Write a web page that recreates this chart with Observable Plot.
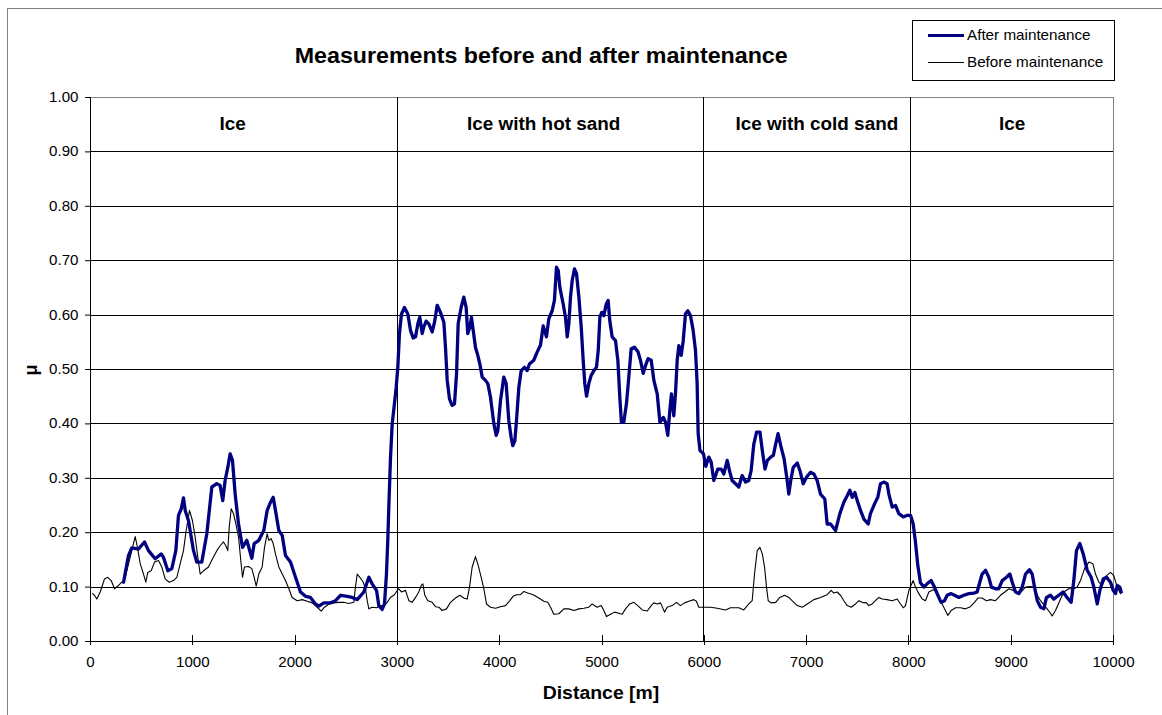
<!DOCTYPE html>
<html>
<head>
<meta charset="utf-8">
<script src="https://cdn.jsdelivr.net/npm/d3@7"></script>
<script src="https://cdn.jsdelivr.net/npm/@observablehq/plot@0.6"></script>
<style>
  html, body { margin: 0; padding: 0; background: #fff; }
  body { font-family: "Liberation Sans", Arial, sans-serif; }
  #wrap { position: relative; width: 1162px; height: 715px; overflow: hidden; }
  #border { position: absolute; left: 7px; top: 8px; width: 1160px; height: 720px; border: 1px solid #808080; box-sizing: border-box; }
  #chart { position: absolute; left: 0; top: 0; }
  .st { display: inline-block; transform: scaleX(1.08); transform-origin: 50% 50%; white-space: nowrap; }
  .stl { display: inline-block; transform: scaleX(1.05); transform-origin: 0 50%; white-space: nowrap; }
  #title { position: absolute; left: 90px; width: 903px; top: 43px; text-align: center; font-weight: bold; font-size: 21.5px; line-height: 26px; color: #000; }
  #xlabel { position: absolute; left: 90px; width: 1023px; top: 682px; text-align: center; font-weight: bold; font-size: 18px; line-height: 22px; }
  #ylabel { position: absolute; left: 31px; top: 370px; font-weight: bold; font-size: 18px; transform: translate(-50%, -50%) rotate(-90deg); }
  #legend { position: absolute; left: 912px; top: 20px; width: 203px; height: 61px; border: 1px solid #000; box-sizing: border-box; background: #fff; font-size: 14.5px; }
  .lg { position: absolute; left: 0; height: 18px; display: flex; align-items: center; }
  .sw { display: inline-block; width: 36px; margin-left: 15px; margin-right: 3px; }
</style>
</head>
<body>
<div id="wrap">
  <div id="border"></div>
  <div id="chart"></div>
  <div id="title"><span class="st">Measurements before and after maintenance</span></div>
  <div id="xlabel"><span class="st">Distance [m]</span></div>
  <div id="ylabel">μ</div>
  <div id="legend">
    <div class="lg" style="top:5px"><span class="sw" style="border-top:3px solid #000080"></span><span class="stl">After maintenance</span></div>
    <div class="lg" style="top:32px"><span class="sw" style="border-top:1px solid #000"></span><span class="stl">Before maintenance</span></div>
  </div>
</div>
<script>
// ---- data ----
const afterX = [323,371,404,469,528,567,632,691,713,756,795,834,860,887,909,926,958,1007,1039,1088,1137,1186,1235,1267,1293,1316,1342,1365,1388,1414,1447,1486,1528,1577,1600,1645,1694,1727,1760,1786,1808,1841,1874,1906,1955,2004,2053,2102,2150,2199,2232,2281,2346,2395,2444,2509,2558,2607,2672,2721,2753,2796,2818,2851,2874,2893,2906,2916,2932,2949,2971,2988,3004,3020,3040,3069,3102,3128,3154,3177,3200,3219,3242,3258,3281,3307,3340,3363,3389,3421,3454,3470,3487,3509,3535,3558,3578,3594,3623,3649,3672,3688,3708,3724,3741,3763,3786,3806,3829,3861,3884,3910,3943,3966,3982,4008,4040,4063,4089,4112,4128,4148,4164,4187,4210,4242,4268,4291,4333,4366,4399,4425,4457,4480,4513,4535,4555,4572,4588,4621,4643,4660,4676,4692,4709,4731,4751,4774,4797,4816,4832,4849,4871,4894,4920,4946,4963,4979,4998,5018,5041,5060,5076,5099,5132,5155,5174,5190,5213,5239,5262,5285,5318,5353,5376,5403,5425,5451,5481,5507,5540,5566,5599,5621,5643,5663,5679,5702,5718,5735,5751,5774,5794,5816,5839,5865,5891,5914,5930,5940,5958,5992,6015,6044,6067,6093,6132,6165,6191,6224,6246,6272,6305,6337,6370,6403,6435,6458,6484,6511,6544,6567,6593,6617,6649,6675,6698,6721,6747,6780,6806,6826,6845,6869,6909,6935,6967,6999,7038,7071,7103,7136,7178,7201,7234,7283,7325,7364,7397,7423,7446,7472,7495,7527,7560,7602,7624,7664,7696,7722,7754,7787,7804,7837,7869,7902,7945,7984,8016,8042,8064,8087,8113,8146,8178,8217,8250,8283,8315,8348,8374,8413,8446,8488,8537,8586,8635,8667,8693,8716,8749,8781,8807,8846,8879,8912,8954,8987,9010,9042,9075,9108,9140,9179,9205,9228,9255,9287,9319,9345,9384,9416,9465,9507,9546,9586,9612,9638,9671,9704,9743,9782,9808,9841,9867,9899,9932,9971,9997,10020,10036,10062,10075];
const afterY = [.109,.158,.172,.170,.183,.167,.152,.161,.155,.130,.134,.167,.232,.244,.264,.241,.222,.167,.146,.146,.198,.284,.290,.287,.259,.296,.320,.345,.333,.271,.216,.173,.186,.153,.180,.186,.204,.241,.256,.265,.241,.204,.195,.158,.146,.118,.091,.083,.081,.069,.065,.071,.071,.075,.085,.083,.081,.077,.091,.118,.106,.094,.066,.059,.069,.124,.186,.247,.335,.400,.437,.467,.504,.566,.602,.614,.602,.572,.558,.560,.584,.596,.566,.578,.589,.584,.569,.587,.618,.605,.587,.541,.480,.446,.434,.437,.492,.584,.614,.633,.614,.566,.578,.596,.572,.541,.526,.510,.486,.480,.474,.449,.400,.379,.388,.443,.486,.474,.406,.375,.360,.369,.406,.467,.498,.504,.498,.510,.517,.532,.545,.580,.560,.593,.608,.627,.688,.682,.651,.620,.596,.560,.584,.633,.664,.685,.676,.633,.578,.517,.474,.451,.474,.489,.498,.504,.535,.596,.605,.599,.620,.627,.590,.560,.553,.517,.449,.403,.403,.437,.486,.538,.541,.532,.517,.493,.507,.520,.517,.480,.455,.403,.412,.403,.379,.425,.455,.415,.455,.517,.544,.526,.553,.602,.608,.599,.572,.535,.474,.382,.351,.345,.322,.339,.330,.296,.317,.317,.308,.333,.314,.296,.290,.284,.305,.293,.296,.314,.363,.385,.385,.351,.317,.333,.339,.342,.363,.382,.360,.336,.302,.271,.296,.320,.328,.314,.290,.302,.311,.308,.296,.271,.262,.216,.216,.204,.235,.256,.268,.278,.265,.274,.259,.241,.225,.216,.235,.253,.265,.290,.293,.290,.271,.247,.250,.235,.229,.232,.232,.216,.183,.140,.108,.100,.106,.112,.100,.085,.072,.075,.085,.088,.085,.081,.085,.088,.089,.091,.109,.124,.131,.118,.100,.097,.097,.112,.118,.124,.109,.091,.088,.100,.124,.132,.124,.100,.075,.063,.060,.081,.085,.078,.085,.091,.081,.072,.112,.167,.180,.161,.131,.118,.100,.069,.094,.115,.118,.109,.094,.088,.103,.100,.091];
const beforeX = [20,39,62,95,137,169,202,235,274,306,332,355,388,420,437,459,486,518,541,560,593,626,665,697,730,769,811,844,877,909,935,968,997,1023,1049,1072,1105,1153,1193,1235,1267,1300,1323,1342,1356,1375,1398,1421,1447,1469,1486,1505,1544,1577,1600,1620,1645,1678,1701,1727,1743,1766,1786,1808,1841,1874,1906,1939,1971,2020,2069,2118,2167,2216,2255,2287,2330,2378,2427,2476,2525,2574,2590,2607,2633,2666,2688,2705,2721,2753,2796,2835,2867,2900,2932,2971,3010,3042,3079,3112,3144,3177,3209,3233,3249,3268,3297,3340,3372,3405,3437,3480,3519,3568,3610,3649,3682,3705,3731,3763,3790,3819,3845,3871,3910,3959,4008,4057,4099,4131,4164,4203,4236,4274,4327,4382,4431,4470,4497,4529,4578,4627,4676,4725,4774,4822,4871,4904,4926,4953,4992,5018,5044,5083,5122,5164,5197,5230,5271,5311,5350,5393,5442,5481,5507,5540,5572,5598,5611,5637,5686,5728,5767,5807,5849,5897,5923,5946,5995,6061,6126,6207,6256,6337,6386,6435,6468,6491,6517,6544,6567,6589,6608,6625,6654,6698,6738,6784,6826,6858,6909,6958,7007,7071,7136,7201,7240,7266,7299,7331,7364,7397,7436,7478,7511,7543,7586,7608,7641,7673,7706,7739,7787,7837,7886,7918,7945,7967,8000,8042,8064,8097,8130,8162,8195,8238,8277,8309,8348,8381,8413,8456,8505,8553,8602,8641,8677,8716,8758,8797,8846,8895,8944,8977,9020,9059,9098,9140,9189,9222,9255,9287,9326,9368,9401,9433,9475,9514,9563,9612,9645,9677,9717,9759,9798,9824,9857,9890,9932,9971,10003,10036,10069];
const beforeY = [.088,.085,.078,.091,.115,.118,.112,.097,.103,.109,.112,.130,.155,.180,.193,.173,.143,.124,.109,.127,.130,.146,.149,.137,.115,.109,.112,.118,.143,.167,.204,.241,.222,.192,.155,.124,.130,.137,.152,.167,.176,.183,.176,.167,.210,.244,.235,.216,.192,.149,.118,.137,.138,.134,.118,.102,.124,.137,.173,.198,.186,.189,.180,.161,.137,.124,.112,.097,.081,.075,.077,.074,.071,.063,.056,.063,.069,.071,.072,.072,.070,.072,.100,.124,.118,.109,.097,.075,.060,.063,.062,.066,.065,.072,.081,.086,.097,.091,.094,.075,.072,.081,.091,.103,.106,.085,.075,.072,.064,.063,.057,.060,.072,.080,.085,.080,.078,.100,.137,.156,.140,.118,.097,.069,.063,.061,.064,.066,.075,.083,.086,.086,.092,.089,.086,.080,.074,.072,.063,.050,.051,.060,.060,.057,.060,.061,.063,.069,.066,.063,.066,.057,.046,.050,.054,.052,.050,.060,.069,.072,.066,.058,.056,.066,.071,.069,.071,.060,.054,.063,.066,.072,.066,.071,.074,.077,.074,.063,.063,.063,.061,.058,.062,.062,.058,.069,.075,.124,.167,.173,.161,.137,.100,.075,.071,.072,.081,.085,.081,.075,.066,.063,.069,.077,.081,.086,.094,.089,.091,.085,.075,.066,.063,.069,.075,.072,.071,.066,.069,.075,.081,.078,.077,.075,.078,.069,.062,.066,.094,.112,.100,.088,.078,.075,.091,.095,.091,.075,.060,.048,.057,.062,.062,.060,.064,.072,.080,.080,.075,.077,.075,.085,.092,.097,.094,.088,.091,.100,.101,.100,.085,.075,.066,.056,.047,.057,.075,.091,.097,.097,.100,.112,.134,.146,.143,.124,.109,.103,.121,.127,.121,.100,.088];
const sectionNames = ["Ice", "Ice with hot sand", "Ice with cold sand", "Ice"];
const sectionLabelX = [1390, 4430, 7100, 9010];
const sectionBounds = [3000, 5990, 8020];
const xTicks = [0,1000,2000,3000,4000,5000,6000,7000,8000,9000,10000];
const yTicks = [0,0.1,0.2,0.3,0.4,0.5,0.6,0.7,0.8,0.9,1.0];

const labelY = sectionNames.map(() => 0.95);

const chart = Plot.plot({
  width: 1162,
  height: 715,
  marginLeft: 90,
  marginRight: 49,
  marginTop: 97,
  marginBottom: 74,
  style: { fontFamily: '"Liberation Sans", Arial, sans-serif', fontSize: "14px", color: "#000", background: "transparent", overflow: "visible" },
  x: { domain: [0, 10000] },
  y: { domain: [0, 1] },
  marks: [
    Plot.ruleY(yTicks.slice(1, -1), { stroke: "#000", strokeWidth: 1, shapeRendering: "crispEdges" }),
    Plot.frame({ stroke: "#808080", shapeRendering: "crispEdges" }),
    Plot.ruleX(sectionBounds, { y1: () => 0, y2: () => 1, stroke: "#000", shapeRendering: "crispEdges" }),
    Plot.ruleX([0], { stroke: "#000", shapeRendering: "crispEdges" }),
    Plot.ruleY([0], { stroke: "#000", shapeRendering: "crispEdges" }),
    Plot.ruleX(xTicks, { y1: () => 0, y2: () => 0, insetTop: -6, insetBottom: -4, stroke: "#000", shapeRendering: "crispEdges" }),
    Plot.axisY({ ticks: yTicks, tickFormat: d3.format(".2f"), tickSize: 5, tickPadding: 7, label: null, fontSize: 14 }),
    Plot.axisX({ ticks: xTicks, tickFormat: d => String(d), tickSize: 0, tickPadding: 16, label: null, fontSize: 14 }),
    Plot.line(beforeY, { x: beforeX, y: beforeY, stroke: "#000", strokeWidth: 1.1, strokeLinejoin: "round" }),
    Plot.line(afterY, { x: afterX, y: afterY, stroke: "#000080", strokeWidth: 3.3, strokeLinejoin: "round", strokeLinecap: "round" }),
    Plot.text(sectionNames, { x: sectionLabelX, y: labelY, text: d => d, fontWeight: "bold", fontSize: 17.5, fill: "#000" })
  ]
});
document.getElementById("chart").appendChild(chart);
// slight horizontal stretch of the text, as in the reference rendering
chart.querySelectorAll("text").forEach(t => {
  const w = t.getComputedTextLength();
  if (w > 0) {
    t.setAttribute("textLength", (w * 1.08).toFixed(1));
    t.setAttribute("lengthAdjust", "spacingAndGlyphs");
  }
});
</script>
</body>
</html>
